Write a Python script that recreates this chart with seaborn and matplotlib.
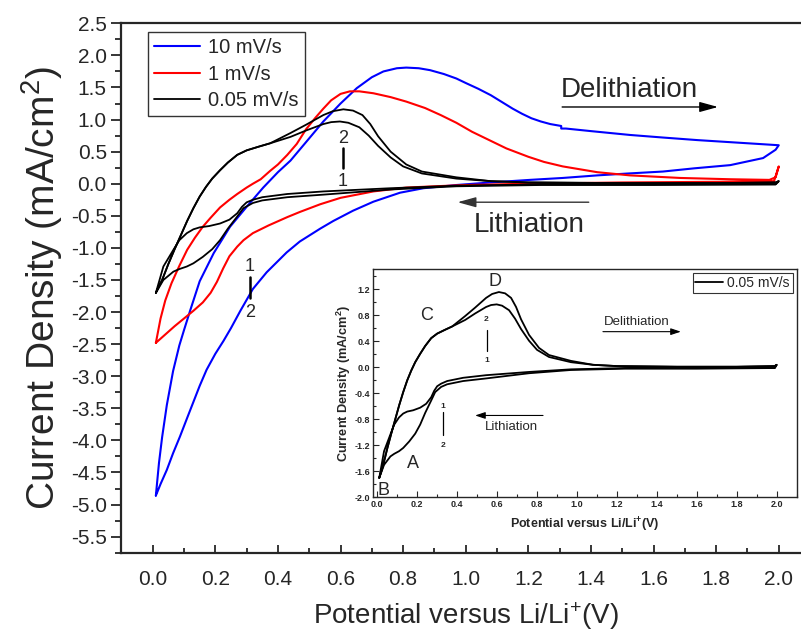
import pandas as pd
import matplotlib
matplotlib.use('Agg')
import matplotlib.pyplot as plt
import seaborn as sns
from matplotlib.ticker import MultipleLocator, FormatStrFormatter

# 10 mV/s loop (anodic sweep up to 2.0 V, then cathodic sweep back)
blue_up_x = [0.01, 0.02, 0.03, 0.045, 0.065, 0.085, 0.10, 0.12, 0.15, 0.195, 0.247, 0.30, 0.353, 0.40,
             0.44, 0.49, 0.545, 0.60, 0.652, 0.70, 0.737, 0.78, 0.81, 0.85, 0.886, 0.93, 0.97, 1.0,
             1.04, 1.08, 1.11, 1.15, 1.18, 1.21, 1.24, 1.27, 1.305, 1.305, 1.32, 1.40, 1.525, 1.63,
             1.74, 1.87, 2.0]
blue_up_y = [-4.86, -4.35, -3.95, -3.45, -2.92, -2.52, -2.28, -1.97, -1.52, -1.08, -0.67, -0.36, -0.06, 0.18,
             0.36, 0.65, 0.97, 1.25, 1.49, 1.66, 1.75, 1.80, 1.81, 1.80, 1.77, 1.71, 1.64, 1.57,
             1.48, 1.38, 1.29, 1.17, 1.09, 1.02, 0.97, 0.93, 0.90, 0.86, 0.86, 0.82, 0.76, 0.72,
             0.68, 0.64, 0.60]
blue_dn_x = [1.99, 1.95, 1.845, 1.73, 1.63, 1.52, 1.42, 1.31, 1.205, 1.08, 0.97, 0.865, 0.79, 0.705,
             0.64, 0.577, 0.535, 0.47, 0.428, 0.364, 0.32, 0.28, 0.25, 0.226, 0.20, 0.172, 0.15, 0.13,
             0.11, 0.087, 0.065, 0.045, 0.025, 0.01]
blue_dn_y = [0.53, 0.40, 0.29, 0.24, 0.19, 0.16, 0.13, 0.09, 0.06, 0.02, -0.02, -0.07, -0.14, -0.28,
             -0.42, -0.58, -0.70, -0.90, -1.07, -1.38, -1.64, -1.98, -2.25, -2.45, -2.65, -2.90, -3.15, -3.40,
             -3.65, -3.94, -4.20, -4.46, -4.68, -4.86]

# 1 mV/s loop
red_up_x = [0.01, 0.025, 0.04, 0.06, 0.085, 0.11, 0.135, 0.16, 0.185, 0.215, 0.245, 0.27, 0.30, 0.32,
            0.345, 0.375, 0.40, 0.43, 0.46, 0.49, 0.52, 0.545, 0.57, 0.60, 0.63, 0.66, 0.705, 0.76,
            0.81, 0.87, 0.92, 0.97, 1.02, 1.075, 1.13, 1.20, 1.25, 1.31, 1.42, 1.525, 1.685, 1.845,
            1.97, 1.99, 2.0]
red_up_y = [-2.48, -2.10, -1.82, -1.55, -1.28, -1.03, -0.84, -0.67, -0.53, -0.37, -0.25, -0.16, -0.06, 0.0,
            0.07, 0.20, 0.30, 0.45, 0.62, 0.85, 1.03, 1.17, 1.30, 1.40, 1.44, 1.44, 1.41, 1.35,
            1.28, 1.18, 1.07, 0.95, 0.81, 0.68, 0.55, 0.42, 0.34, 0.27, 0.18, 0.13, 0.09, 0.07,
            0.06, 0.10, 0.27]
red_dn_x = [1.985, 1.8, 1.5, 1.2, 1.0, 0.9, 0.81, 0.705, 0.60, 0.535, 0.47, 0.43, 0.37, 0.32, 0.29,
            0.27, 0.245, 0.225, 0.205, 0.185, 0.16, 0.13, 0.10, 0.07, 0.04, 0.01]
red_dn_y = [0.04, 0.03, 0.02, 0.0, -0.02, -0.04, -0.06, -0.12, -0.22, -0.32, -0.44, -0.52, -0.65, -0.77, -0.88,
            -0.98, -1.13, -1.32, -1.53, -1.70, -1.85, -1.98, -2.10, -2.22, -2.35, -2.48]

# 0.05 mV/s, two cycles (shared start of the anodic sweep)
blk_start_x = [0.01, 0.03, 0.05, 0.07, 0.09, 0.11, 0.13, 0.15, 0.17, 0.19, 0.215, 0.24, 0.27, 0.30, 0.34, 0.375]
blk_start_y = [-1.70, -1.50, -1.25, -1.02, -0.80, -0.58, -0.38, -0.20, -0.05, 0.08, 0.21, 0.33, 0.45, 0.52, 0.58, 0.63]

c1_up_x = [0.44, 0.49, 0.545, 0.57, 0.598, 0.625, 0.66, 0.69, 0.72, 0.76, 0.80, 0.86, 0.97, 1.08, 1.2, 1.5, 1.8, 1.99, 2.0]
c1_up_y = [0.73, 0.83, 0.93, 0.96, 0.97, 0.95, 0.88, 0.75, 0.59, 0.41, 0.27, 0.16, 0.08, 0.04, 0.02, 0.01, 0.01, 0.02, 0.04]
c1_dn_x = [1.99, 1.6, 1.24, 0.97, 0.76, 0.545, 0.43, 0.35, 0.32, 0.30, 0.285, 0.27, 0.245, 0.215, 0.18,
           0.15, 0.13, 0.109, 0.085, 0.066, 0.034, 0.01]
c1_dn_y = [-0.01, -0.01, -0.01, -0.03, -0.07, -0.12, -0.16, -0.21, -0.25, -0.29, -0.36, -0.46, -0.56, -0.62, -0.66,
           -0.68, -0.71, -0.77, -0.88, -1.03, -1.29, -1.70]

c2_up_x = [0.44, 0.49, 0.545, 0.575, 0.609, 0.64, 0.67, 0.695, 0.72, 0.76, 0.81, 0.86, 0.97, 1.08, 1.2, 1.5, 1.8, 1.99, 2.0]
c2_up_y = [0.79, 0.92, 1.07, 1.13, 1.16, 1.14, 1.07, 0.93, 0.74, 0.50, 0.30, 0.19, 0.10, 0.04, 0.02, 0.01, 0.01, 0.02, 0.04]
c2_dn_x = [1.99, 1.6, 1.24, 0.97, 0.76, 0.545, 0.43, 0.35, 0.32, 0.29, 0.27, 0.24, 0.215, 0.19, 0.16,
           0.13, 0.109, 0.085, 0.066, 0.034, 0.01]
c2_dn_y = [-0.01, -0.02, -0.02, -0.04, -0.09, -0.17, -0.21, -0.26, -0.30, -0.38, -0.51, -0.70, -0.88, -1.02, -1.14,
           -1.24, -1.29, -1.33, -1.37, -1.50, -1.70]

sns.set_theme(style='ticks')
plt.rcParams['font.family'] = ['Liberation Sans', 'DejaVu Sans']
plt.rcParams['mathtext.default'] = 'regular'
plt.rcParams['axes.unicode_minus'] = False


def draw_loop(ax, xs, ys, color, lw, label=None):
    df = pd.DataFrame({'E': xs, 'J': ys})
    sns.lineplot(data=df, x='E', y='J', sort=False, estimator=None, color=color,
                 lw=lw, label=label, ax=ax)


fig = plt.figure(figsize=(8.01, 6.32), dpi=100)
ax = fig.add_axes([0.1516, 0.1245, 0.8597, 0.8386])

draw_loop(ax, blue_up_x + blue_dn_x, blue_up_y + blue_dn_y, '#0000ff', 1.5, '10 mV/s')
draw_loop(ax, red_up_x + red_dn_x, red_up_y + red_dn_y, '#ff0000', 1.5, '1 mV/s')
draw_loop(ax, blk_start_x + c1_up_x + c1_dn_x, blk_start_y + c1_up_y + c1_dn_y, 'black', 1.3, '0.05 mV/s')
draw_loop(ax, blk_start_x + c2_up_x + c2_dn_x, blk_start_y + c2_up_y + c2_dn_y, 'black', 1.3)

ax.set_xlim(-0.1, 2.1)
ax.set_ylim(-5.76, 2.5)
ax.xaxis.set_major_locator(MultipleLocator(0.2))
ax.xaxis.set_minor_locator(MultipleLocator(0.1))
ax.yaxis.set_major_locator(MultipleLocator(0.5))
ax.yaxis.set_minor_locator(MultipleLocator(0.25))
ax.xaxis.set_major_formatter(FormatStrFormatter('%.1f'))
ax.yaxis.set_major_formatter(FormatStrFormatter('%.1f'))
ax.tick_params(axis='x', which='major', direction='in', length=6, width=1.3, labelsize=15, pad=12)
ax.tick_params(axis='x', which='minor', direction='in', length=3.5, width=1.3)
ax.tick_params(axis='y', which='major', direction='out', length=7, width=1.3, labelsize=15)
ax.tick_params(axis='y', which='minor', direction='out', length=4, width=1.3)
for s in ax.spines.values():
    s.set_linewidth(1.6)
ax.set_xlabel('Potential versus Li/Li$^{+}$(V)', fontsize=20, labelpad=8)
ax.set_ylabel('Current Density (mA/cm$^{2}$)', fontsize=28, labelpad=4)

ax.legend(loc='upper left', bbox_to_anchor=(0.0386, 0.9836), borderaxespad=0, fontsize=14.5,
          frameon=True, fancybox=False, edgecolor='black', handlelength=2.3, handletextpad=0.4,
          labelspacing=0.38, borderpad=0.3).get_frame().set_linewidth(1.0)

ax.text(1.305, 1.35, 'Delithiation', fontsize=20, ha='left', va='baseline')
ax.annotate('', xy=(1.806, 1.196), xytext=(1.308, 1.196),
            arrowprops=dict(arrowstyle='-|>,head_length=0.8,head_width=0.22', color='black',
                            lw=1.0, mutation_scale=14, shrinkA=0, shrinkB=0))
ax.text(1.024, -0.746, 'Lithiation', fontsize=20, ha='left', va='baseline')
ax.annotate('', xy=(0.974, -0.288), xytext=(1.393, -0.288),
            arrowprops=dict(arrowstyle='-|>,head_length=0.8,head_width=0.22', color='#333333',
                            lw=1.0, mutation_scale=14, shrinkA=0, shrinkB=0))

ax.text(0.608, 0.70, '2', fontsize=13, ha='center', va='center')
ax.plot([0.608, 0.608], [0.56, 0.24], color='black', lw=1.8)
ax.text(0.608, 0.04, '1', fontsize=13, ha='center', va='center')
ax.text(0.31, -1.29, '1', fontsize=13, ha='center', va='center')
ax.plot([0.31, 0.31], [-1.45, -1.78], color='black', lw=1.8)
ax.text(0.31, -2.01, '2', fontsize=13, ha='center', va='center')

# inset with the slowest scan
ins = fig.add_axes([0.466, 0.2131, 0.5286, 0.3608])
draw_loop(ins, blk_start_x + c1_up_x + c1_dn_x, blk_start_y + c1_up_y + c1_dn_y, 'black', 1.3, '0.05 mV/s')
draw_loop(ins, blk_start_x + c2_up_x + c2_dn_x, blk_start_y + c2_up_y + c2_dn_y, 'black', 1.3)
ins.set_xlim(-0.02, 2.1)
ins.set_ylim(-2.0, 1.51)
ins.xaxis.set_major_locator(MultipleLocator(0.2))
ins.xaxis.set_minor_locator(MultipleLocator(0.1))
ins.yaxis.set_major_locator(MultipleLocator(0.4))
ins.yaxis.set_minor_locator(MultipleLocator(0.2))
ins.xaxis.set_major_formatter(FormatStrFormatter('%.1f'))
ins.yaxis.set_major_formatter(FormatStrFormatter('%.1f'))
ins.tick_params(which='major', direction='in', length=4, width=0.8, labelsize=6.5, pad=2)
ins.tick_params(which='minor', direction='in', length=2, width=0.8)
for lab in ins.get_xticklabels() + ins.get_yticklabels():
    lab.set_fontweight('bold')
for s in ins.spines.values():
    s.set_linewidth(1.0)
ins.set_xlabel('Potential versus Li/Li$^{+}$(V)', fontsize=9, fontweight='bold', labelpad=5)
ins.set_ylabel('Current Density (mA/cm$^{2}$)', fontsize=9.2, fontweight='bold', labelpad=1)
ins.legend(loc='upper right', fontsize=10, frameon=True, fancybox=False, edgecolor='black',
           handlelength=2.0, handletextpad=0.3, borderpad=0.2, borderaxespad=0.3).get_frame().set_linewidth(0.8)

ins.text(0.589, 1.32, 'D', fontsize=13, ha='center', va='center')
ins.text(0.247, 0.80, 'C', fontsize=13, ha='center', va='center')
ins.text(0.18, -1.48, 'A', fontsize=13, ha='center', va='center')
ins.text(0.03, -1.89, 'B', fontsize=13, ha='center', va='center')
ins.text(0.547, 0.73, '2', fontsize=6, fontweight='bold', ha='center', va='center')
ins.plot([0.547, 0.547], [0.58, 0.25], color='black', lw=0.9)
ins.text(0.547, 0.10, '1', fontsize=6, fontweight='bold', ha='center', va='center')
ins.text(0.327, -0.60, '1', fontsize=6, fontweight='bold', ha='center', va='center')
ins.plot([0.327, 0.327], [-0.68, -1.04], color='black', lw=0.9)
ins.text(0.327, -1.20, '2', fontsize=6, fontweight='bold', ha='center', va='center')
ins.text(1.30, 0.70, 'Delithiation', fontsize=9.5, ha='center', va='center')
ins.annotate('', xy=(1.52, 0.55), xytext=(1.13, 0.55),
             arrowprops=dict(arrowstyle='-|>,head_length=0.6,head_width=0.2', color='black',
                             lw=0.8, mutation_scale=10, shrinkA=0, shrinkB=0))
ins.text(0.67, -0.92, 'Lithiation', fontsize=9.5, ha='center', va='center')
ins.annotate('', xy=(0.49, -0.74), xytext=(0.83, -0.74),
             arrowprops=dict(arrowstyle='-|>,head_length=0.6,head_width=0.2', color='black',
                             lw=0.8, mutation_scale=10, shrinkA=0, shrinkB=0))

fig.savefig('out.png', dpi=100)
